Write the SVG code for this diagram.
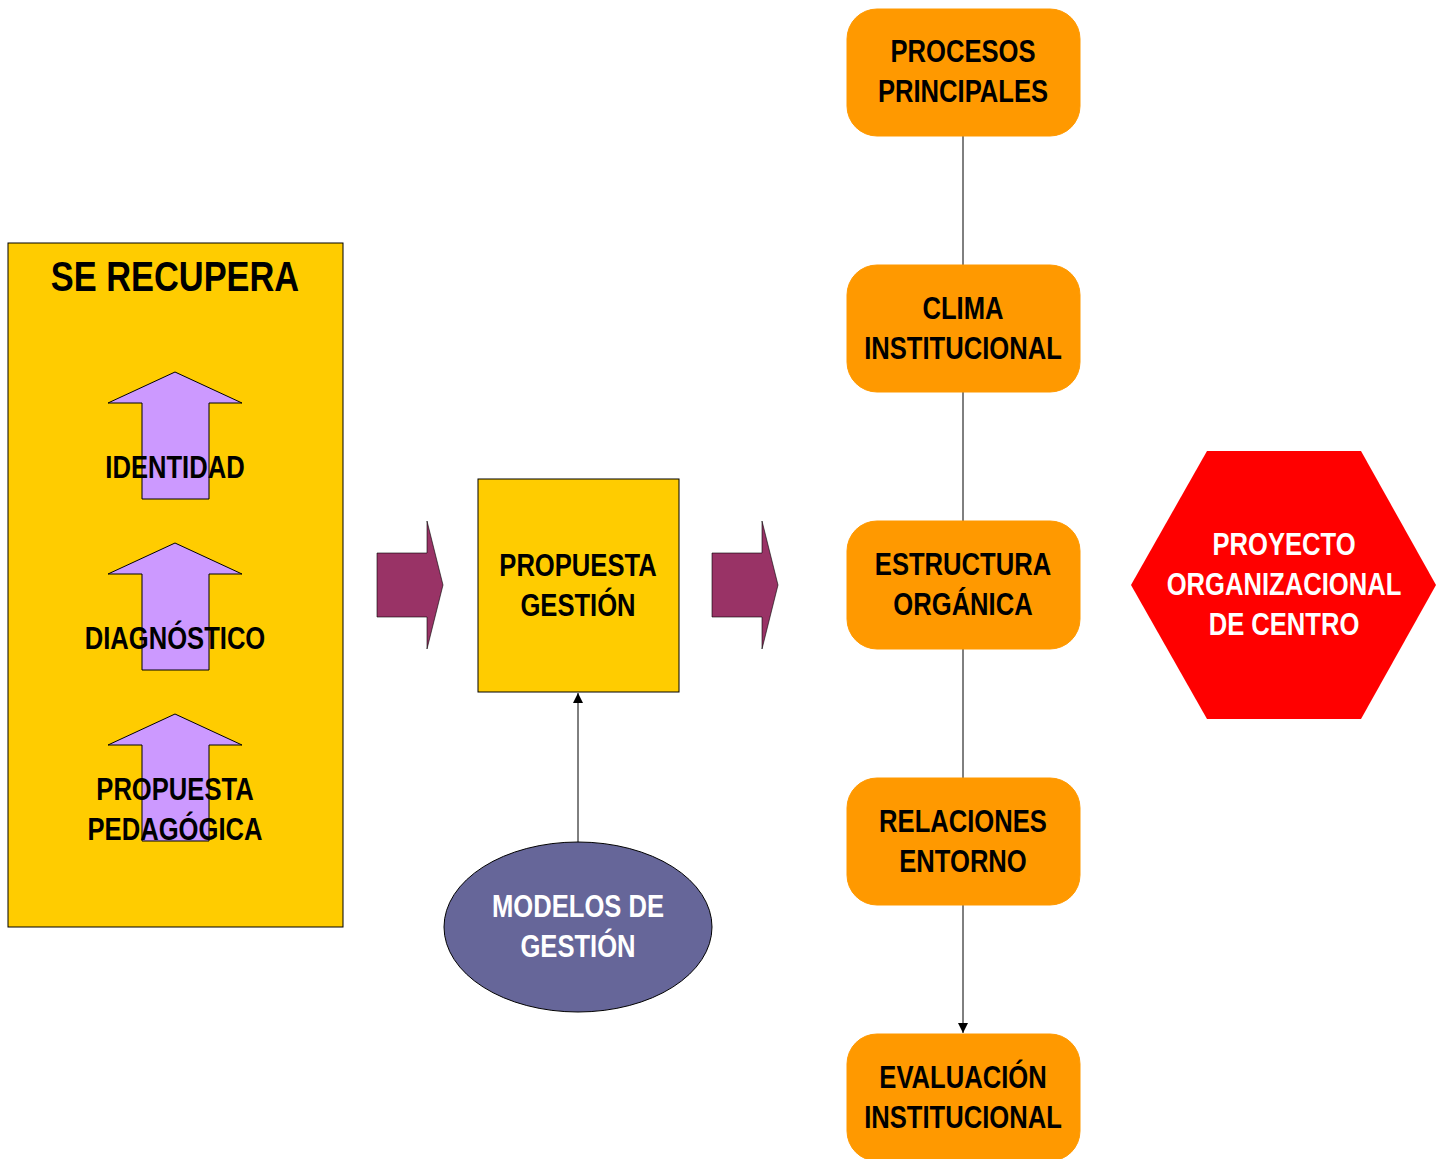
<svg xmlns="http://www.w3.org/2000/svg" width="1446" height="1159" viewBox="0 0 1446 1159">
<defs>
<style>
text{font-family:"Liberation Sans",Arial,sans-serif;font-weight:bold;text-anchor:middle;font-size:32px;fill:#000}
.w{fill:#fff}
.ybox{fill:#FFCC00;stroke:#000;stroke-width:1}
.up{fill:#CC99FF;stroke:#000;stroke-width:1}
.blk{fill:#993366;stroke:#000;stroke-width:0.6}
.org{fill:#FF9900;stroke:#FF9900;stroke-width:1}
.conn{stroke:#000;stroke-width:1;fill:none}
</style>
<marker id="ah" viewBox="0 0 10 10" refX="10" refY="5" markerWidth="10" markerHeight="12" markerUnits="userSpaceOnUse" orient="auto"><path d="M0,0 L10,5 L0,10 z" fill="#000"/></marker>
</defs>
<rect width="1446" height="1159" fill="#fff"/>
<g id="connectors">
<line class="conn" x1="963" y1="136" x2="963" y2="1033" marker-end="url(#ah)"/>
<line class="conn" x1="578" y1="842" x2="578" y2="693" marker-end="url(#ah)"/>
</g>
<g id="se-recupera">
<rect class="ybox" x="8" y="243" width="335" height="684"/>
<text transform="matrix(0.8 0 0 1 175 291)" style="font-size:43px">SE RECUPERA</text>
</g>
<g id="identidad">
<path class="up" d="M175,372 L242,403 L209,403 L209,499 L142,499 L142,403 L108,403 Z"/>
<text transform="matrix(0.8 0 0 1 175 478)">IDENTIDAD</text>
</g>
<g id="diagnostico">
<path class="up" d="M175,543 L242,574 L209,574 L209,670 L142,670 L142,574 L108,574 Z"/>
<text transform="matrix(0.8 0 0 1 175 649)">DIAGNÓSTICO</text>
</g>
<g id="propuesta-pedagogica">
<path class="up" d="M175,714 L242,745 L209,745 L209,841 L142,841 L142,745 L108,745 Z"/>
<text transform="matrix(0.8 0 0 1 175 800)">PROPUESTA</text>
<text transform="matrix(0.8 0 0 1 175 840)">PEDAGÓGICA</text>
</g>
<g id="flecha1">
<path class="blk" d="M377,553 L427,553 L427,521 L443,585 L427,649 L427,617 L377,617 Z"/>
</g>
<g id="propuesta-gestion">
<rect class="ybox" x="478" y="479" width="201" height="213"/>
<text transform="matrix(0.8 0 0 1 578 576)">PROPUESTA</text>
<text transform="matrix(0.8 0 0 1 578 616)">GESTIÓN</text>
</g>
<g id="flecha2">
<path class="blk" d="M712,553 L762,553 L762,521 L778,585 L762,649 L762,617 L712,617 Z"/>
</g>
<g id="modelos">
<ellipse cx="578" cy="927" rx="134" ry="85" fill="#666699" stroke="#000" stroke-width="1"/>
<text class="w" transform="matrix(0.8 0 0 1 578 917)">MODELOS DE</text>
<text class="w" transform="matrix(0.8 0 0 1 578 957)">GESTIÓN</text>
</g>
<g id="procesos">
<rect class="org" x="847" y="9" width="233" height="127" rx="30"/>
<text transform="matrix(0.8 0 0 1 963 62)">PROCESOS</text>
<text transform="matrix(0.8 0 0 1 963 102)">PRINCIPALES</text>
</g>
<g id="clima">
<rect class="org" x="847" y="265" width="233" height="127" rx="30"/>
<text transform="matrix(0.8 0 0 1 963 319)">CLIMA</text>
<text transform="matrix(0.8 0 0 1 963 359)">INSTITUCIONAL</text>
</g>
<g id="estructura">
<rect class="org" x="847" y="521" width="233" height="128" rx="30"/>
<text transform="matrix(0.8 0 0 1 963 575)">ESTRUCTURA</text>
<text transform="matrix(0.8 0 0 1 963 615)">ORGÁNICA</text>
</g>
<g id="relaciones">
<rect class="org" x="847" y="778" width="233" height="127" rx="30"/>
<text transform="matrix(0.8 0 0 1 963 832)">RELACIONES</text>
<text transform="matrix(0.8 0 0 1 963 872)">ENTORNO</text>
</g>
<g id="evaluacion">
<rect class="org" x="847" y="1034" width="233" height="127" rx="30"/>
<text transform="matrix(0.8 0 0 1 963 1088)">EVALUACIÓN</text>
<text transform="matrix(0.8 0 0 1 963 1128)">INSTITUCIONAL</text>
</g>
<g id="proyecto">
<path d="M1131,585 L1207,451 L1361,451 L1436,585 L1361,719 L1207,719 Z" fill="#FF0000"/>
<text class="w" transform="matrix(0.8 0 0 1 1284 555)">PROYECTO</text>
<text class="w" transform="matrix(0.8 0 0 1 1284 595)">ORGANIZACIONAL</text>
<text class="w" transform="matrix(0.8 0 0 1 1284 635)">DE CENTRO</text>
</g>
</svg>
